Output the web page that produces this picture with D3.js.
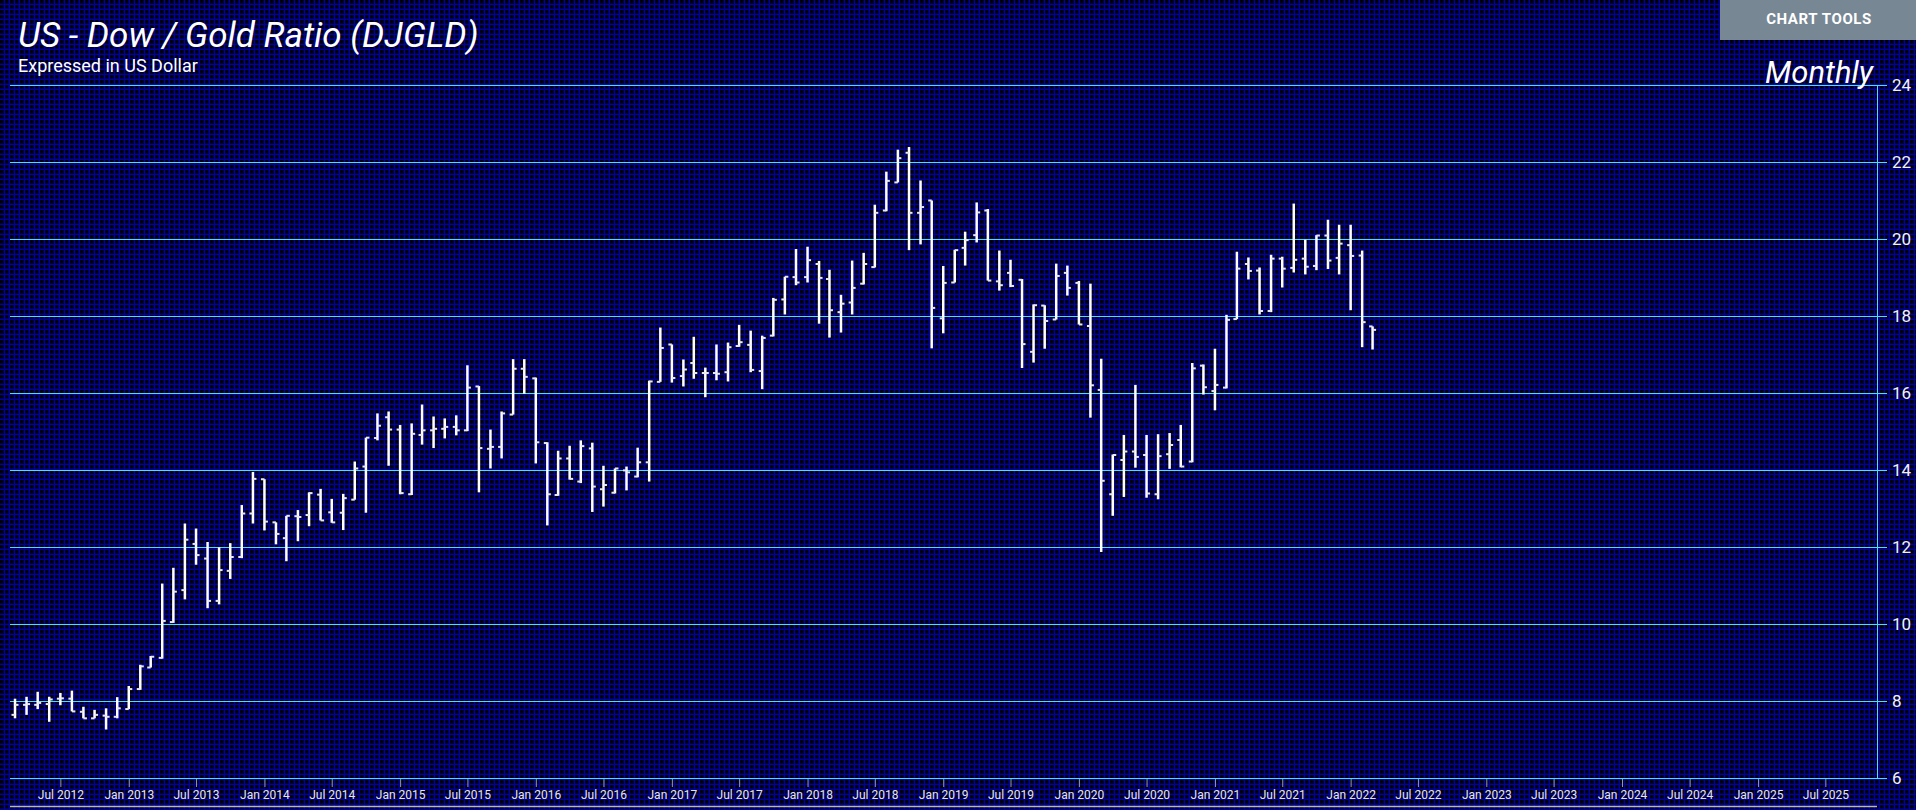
<!DOCTYPE html>
<html><head><meta charset="utf-8">
<script src="https://cdn.jsdelivr.net/npm/d3@7/dist/d3.min.js"></script>
<style>html,body{margin:0;padding:0;background:#000;overflow:hidden}svg{display:block}</style>
</head><body><svg id="c" width="1916" height="810"></svg>
<script>
// ---- DATA (monthly OHLC, Mar 2012 .. Mar 2022) ----
const firstMonth = [2012, 3];
const open = [
  7.64,7.90,7.90,7.92,8.06,8.06,7.72,7.55,7.62,7.59,
  7.79,8.31,8.87,9.12,10.05,10.88,12.08,11.70,10.60,11.38,11.74,12.87,
  13.76,12.64,12.23,12.80,12.83,13.36,12.90,12.89,13.23,14.09,14.83,15.37,
  15.05,13.37,14.91,15.03,15.07,15.12,15.03,16.17,14.55,14.60,15.44,16.63,
  16.38,14.70,13.35,14.30,13.70,14.56,13.50,13.41,13.99,13.83,14.20,16.29,
  17.26,16.44,16.78,16.52,16.52,16.54,17.22,17.25,16.57,17.49,18.43,19.01,
  19.01,19.35,18.96,18.10,18.35,18.84,19.27,20.74,21.47,22.24,20.68,21.00,
  17.94,18.87,19.77,20.10,20.74,18.90,19.12,18.94,17.07,18.27,17.91,19.12,
  18.86,17.74,16.08,13.37,14.26,14.48,14.39,13.37,14.41,14.78,14.22,16.71,
  16.05,16.14,17.92,19.35,19.18,18.13,19.49,19.25,19.49,19.30,20.09,19.51,
  19.84,19.57,17.73];
const high = [
  8.06,8.11,8.24,8.11,8.21,8.27,7.85,7.77,7.81,8.10,
  8.39,8.94,9.17,11.05,11.46,12.61,12.48,12.13,11.99,12.10,13.09,13.95,
  13.76,12.64,12.81,12.96,13.42,13.51,13.25,13.38,14.22,14.84,15.47,15.52,
  15.17,15.21,15.70,15.39,15.34,15.42,16.72,16.18,15.05,15.52,16.88,16.88,
  16.40,14.72,14.50,14.63,14.77,14.71,14.11,14.04,14.09,14.58,16.32,17.70,
  17.26,16.87,17.46,16.66,17.26,17.31,17.77,17.62,17.49,18.47,19.02,19.74,
  19.80,19.43,19.20,18.55,19.44,19.64,20.89,21.75,22.32,22.39,21.52,21.00,
  19.30,19.72,20.19,20.95,20.78,19.70,19.46,18.96,18.30,18.28,19.36,19.31,
  18.91,18.84,16.89,14.40,14.91,16.21,14.91,14.93,14.96,15.17,16.78,16.74,
  17.15,18.03,19.67,19.52,19.26,19.59,19.54,20.92,19.98,20.10,20.50,20.37,
  20.37,19.70,17.73];
const low = [
  7.55,7.64,7.79,7.46,7.89,7.73,7.55,7.55,7.26,7.55,
  7.79,8.29,8.87,9.10,10.03,10.64,11.54,10.41,10.51,11.17,11.71,12.61,
  12.43,12.07,11.63,12.15,12.54,12.69,12.63,12.44,13.23,12.89,14.77,14.11,
  13.37,13.35,14.66,14.57,14.82,14.90,15.01,13.42,14.04,14.30,15.44,15.98,
  14.17,12.56,13.33,13.75,13.66,12.91,13.05,13.39,13.47,13.81,13.70,16.29,
  16.27,16.17,16.37,15.89,16.33,16.30,17.20,16.54,16.10,17.47,18.04,18.80,
  18.87,17.80,17.44,17.57,18.04,18.82,19.26,20.72,21.47,19.71,19.86,17.16,
  17.55,18.87,19.31,19.91,18.92,18.66,18.75,16.65,16.79,17.15,17.91,18.53,
  17.78,15.36,11.87,12.81,13.30,14.06,13.28,13.24,14.03,14.07,14.20,15.96,
  15.55,16.12,17.92,18.95,18.04,18.10,18.74,19.13,19.08,19.19,19.22,19.08,
  18.15,17.19,17.13];
const close = [
  7.90,7.92,7.95,8.04,8.07,7.73,7.55,7.64,7.59,7.81,
  8.31,8.90,9.15,10.08,10.84,12.19,11.79,10.60,11.40,11.74,12.87,13.77,
  12.66,12.34,12.81,12.78,13.40,12.69,12.64,13.27,14.04,14.84,15.15,15.05,
  13.40,14.94,15.03,15.07,15.12,15.03,16.14,14.57,14.60,15.47,16.63,16.42,
  14.72,13.37,14.30,13.77,14.62,13.57,13.61,14.04,13.94,14.20,16.30,17.17,
  16.39,16.61,16.52,16.52,16.50,17.19,17.32,16.60,17.43,18.42,19.02,18.87,
  19.45,18.99,18.15,18.32,18.73,19.35,20.68,21.51,22.10,20.68,20.83,18.21,
  18.86,19.71,19.97,20.69,18.92,18.80,18.78,17.27,18.28,17.87,19.04,18.73,
  17.78,16.20,13.72,14.39,14.48,14.34,13.39,14.36,14.65,14.09,16.64,16.15,
  16.21,17.90,19.23,19.17,18.13,19.49,19.23,19.46,19.28,20.09,19.44,19.88,
  19.56,17.84,17.64];
const yTicks = [6, 8, 10, 12, 14, 16, 18, 20, 22, 24];
const titleText = "US - Dow / Gold Ratio (DJGLD)";
const subtitleText = "Expressed in US Dollar";
const periodText = "Monthly";
const toolsText = "CHART TOOLS";

// ---- LAYOUT ----
const W = 1916, H = 810;
const plotL = 10, plotR = 1877, plotT = 85, plotB = 778;
const svg = d3.select("#c");

// background grid pattern
const defs = svg.append("defs");
const pat = defs.append("pattern").attr("id", "bg").attr("width", 5).attr("height", 5)
  .attr("patternUnits", "userSpaceOnUse");
pat.append("rect").attr("width", 5).attr("height", 5).attr("fill", "#000");
pat.append("rect").attr("x", 3).attr("width", 1).attr("height", 5).attr("fill", "#000048");
pat.append("rect").attr("y", 3).attr("width", 5).attr("height", 1).attr("fill", "#000048");
pat.append("rect").attr("x", 4).attr("width", 1).attr("height", 5).attr("fill", "#0000a8");
pat.append("rect").attr("y", 4).attr("width", 5).attr("height", 1).attr("fill", "#0000a8");
svg.append("rect").attr("width", W).attr("height", H).attr("fill", "url(#bg)");

const dates = open.map((_, i) => new Date(firstMonth[0], firstMonth[1] - 1 + i, 1));

const x = d3.scaleTime()
  .domain([new Date(2012, 1, 16, 12), new Date(2025, 10, 17)])
  .range([plotL, plotR]);
const y = d3.scaleLinear().domain([6, 24]).range([plotB, plotT]);

// horizontal grid lines + y labels
const grid = svg.append("g");
grid.selectAll("line").data(yTicks).join("line")
  .attr("x1", plotL).attr("x2", plotR + 10)
  .attr("y1", d => y(d) + 0.5).attr("y2", d => y(d) + 0.5)
  .attr("stroke", "#40e6ee").attr("stroke-width", 1).attr("shape-rendering", "crispEdges");
grid.selectAll("text").data(yTicks).join("text")
  .attr("x", plotR + 15).attr("y", d => y(d)).attr("dy", "0.36em")
  .attr("fill", "#f2f2f2").attr("font-family", "Roboto").attr("font-size", 17)
  .text(d => d);
svg.append("line").attr("x1", plotR + 0.5).attr("x2", plotR + 0.5)
  .attr("y1", plotT).attr("y2", plotB)
  .attr("stroke", "#40e6ee").attr("stroke-width", 1).attr("shape-rendering", "crispEdges");

// x axis
const xAxis = svg.append("g").attr("transform", `translate(0,${plotB + 1})`)
  .call(d3.axisBottom(x).ticks(d3.timeMonth.every(6)).tickFormat(d3.timeFormat("%b %Y")).tickSize(8));
xAxis.select(".domain").remove();
xAxis.selectAll(".tick line").attr("stroke", "#9a9a9a");
xAxis.selectAll(".tick text").attr("fill", "#e6e6e6").attr("font-family", "Roboto").attr("font-size", 12);

// navigator strip at the bottom
svg.append("line").attr("x1", plotL).attr("x2", plotR).attr("y1", 806.5).attr("y2", 806.5)
  .attr("stroke", "#b8b8b8").attr("stroke-width", 1.5);

// OHLC bars
const bars = svg.append("g");
dates.forEach((d, i) => {
  const cx = x(d);
  bars.append("line").attr("x1", cx).attr("x2", cx)
    .attr("y1", y(high[i])).attr("y2", y(low[i]))
    .attr("stroke", "#fff").attr("stroke-width", 2.5);
  bars.append("line").attr("x1", cx - 3.5).attr("x2", cx)
    .attr("y1", y(open[i])).attr("y2", y(open[i]))
    .attr("stroke", "#e8e8e8").attr("stroke-width", 2);
  bars.append("line").attr("x1", cx).attr("x2", cx + 3.5)
    .attr("y1", y(close[i])).attr("y2", y(close[i]))
    .attr("stroke", "#e8e8e8").attr("stroke-width", 2);
});

// titles
svg.append("text").attr("x", 18).attr("y", 47).attr("fill", "#fff")
  .attr("font-family", "Roboto").attr("font-style", "italic").attr("font-size", 35)
  .text(titleText);
svg.append("text").attr("x", 18).attr("y", 72).attr("fill", "#fff")
  .attr("font-family", "Roboto").attr("font-size", 18)
  .text(subtitleText);
svg.append("text").attr("x", 1873).attr("y", 83).attr("text-anchor", "end").attr("fill", "#fff")
  .attr("font-family", "Roboto").attr("font-style", "italic").attr("font-size", 31)
  .text(periodText);

// chart tools button
svg.append("rect").attr("x", 1720).attr("y", 0).attr("width", 196).attr("height", 40).attr("fill", "#778794");
svg.append("text").attr("x", 1819).attr("y", 24).attr("text-anchor", "middle").attr("fill", "#fff")
  .attr("font-family", "Roboto").attr("font-weight", "bold").attr("font-size", 15)
  .attr("letter-spacing", 0.6).text(toolsText);
</script></body></html>
